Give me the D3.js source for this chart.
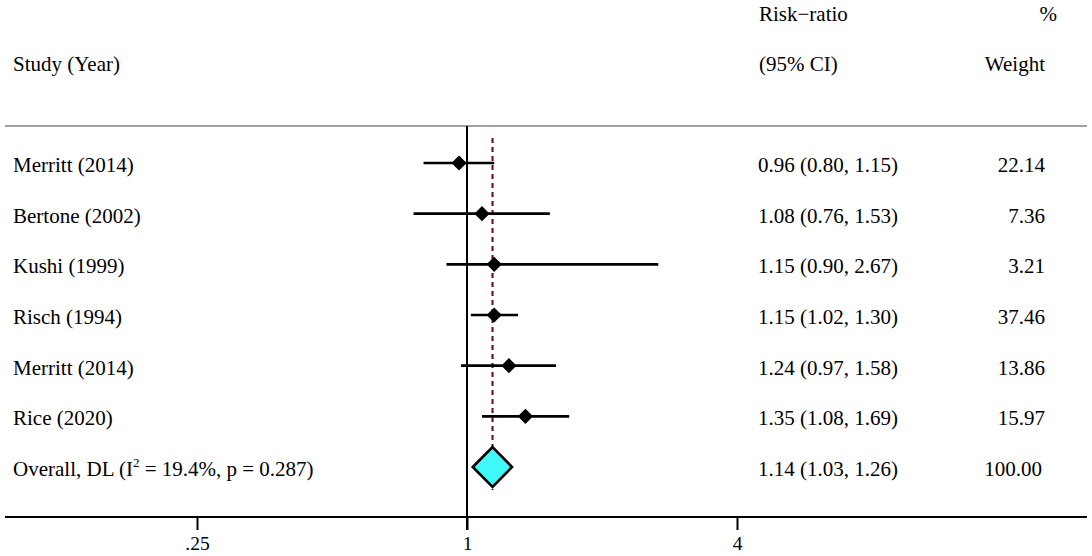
<!DOCTYPE html>
<html>
<head>
<meta charset="utf-8">
<script src="https://cdn.jsdelivr.net/npm/d3@7"></script>
<style>
html,body{margin:0;padding:0;background:#fff;}
svg{display:block;font-family:"Liberation Serif","Times New Roman",serif;}
</style>
</head>
<body>
<svg id="chart" width="1092" height="556"></svg>
<script>
const studies = ["Merritt (2014)","Bertone (2002)","Kushi (1999)","Risch (1994)","Merritt (2014)","Rice (2020)"];
const rr      = [0.96, 1.08, 1.15, 1.15, 1.24, 1.35];
const lower   = [0.80, 0.76, 0.90, 1.02, 0.97, 1.08];
const upper   = [1.15, 1.53, 2.67, 1.30, 1.58, 1.69];
const weights = ["22.14","7.36","3.21","37.46","13.86","15.97"];
const ciText  = ["0.96 (0.80, 1.15)","1.08 (0.76, 1.53)","1.15 (0.90, 2.67)","1.15 (1.02, 1.30)","1.24 (0.97, 1.58)","1.35 (1.08, 1.69)"];
const overall = {rr:1.14, lo:1.03, hi:1.26, ci:"1.14 (1.03, 1.26)", w:"100.00"};
const tickValues = [0.25, 1, 4];
const tickLabels = [".25", "1", "4"];

const svg = d3.select("#chart");
const x = d3.scaleLog().domain([0.25, 4]).range([197, 737]);
const y = d3.scaleLinear().domain([0, 6]).range([163, 467]);
const FS = 21;

// headers
const hdr = svg.append("g").attr("font-size", FS).attr("fill", "#000");
hdr.append("text").attr("x", 13).attr("y", 71).text("Study (Year)");
hdr.append("text").attr("x", 759).attr("y", 21).text("Risk\u2212ratio");
hdr.append("text").attr("x", 759).attr("y", 71).text("(95% CI)");
hdr.append("text").attr("x", 1057).attr("y", 21).attr("text-anchor","end").text("%");
hdr.append("text").attr("x", 1045).attr("y", 71).attr("text-anchor","end").text("Weight");

// divider
svg.append("line").attr("x1", 5).attr("x2", 1087).attr("y1", 126).attr("y2", 126)
  .attr("stroke", "#808080").attr("stroke-width", 1.6);

// null line at 1
svg.append("line").attr("x1", x(1)).attr("x2", x(1)).attr("y1", 126).attr("y2", 530)
  .attr("stroke", "#000").attr("stroke-width", 2);

// dashed overall line
svg.append("line").attr("x1", x(overall.rr)).attr("x2", x(overall.rr)).attr("y1", 138).attr("y2", 490)
  .attr("stroke", "#5a0a14").attr("stroke-width", 2).attr("stroke-dasharray", "5,4");

// bottom axis
svg.append("line").attr("x1", 5).attr("x2", 1087).attr("y1", 517).attr("y2", 517)
  .attr("stroke", "#000").attr("stroke-width", 2);
const axis = d3.axisBottom(x).tickValues(tickValues).tickSize(13).tickPadding(0)
  .tickFormat((d, i) => tickLabels[i]);
const ag = svg.append("g").attr("transform", "translate(0,517)").call(axis);
ag.select(".domain").remove();
ag.selectAll(".tick line").attr("stroke", "#000").attr("stroke-width", 2);
ag.selectAll(".tick text").attr("font-size", 19.5).attr("fill", "#000")
  .attr("font-family", "\"Liberation Serif\",\"Times New Roman\",serif")
  .attr("y", 33).attr("dy", null);

// study rows
const idx = d3.range(studies.length);
const rows = svg.append("g");
rows.selectAll("line.ci").data(idx).join("line").attr("class","ci")
  .attr("x1", i => x(lower[i])).attr("x2", i => x(upper[i]))
  .attr("y1", i => y(i)).attr("y2", i => y(i))
  .attr("stroke", "#000").attr("stroke-width", 2.6);
const ds = 7.6;
rows.selectAll("path.pt").data(idx).join("path").attr("class","pt")
  .attr("d", i => {
    const cx = x(rr[i]), cy = y(i);
    return `M${cx},${cy-ds}L${cx+ds},${cy}L${cx},${cy+ds}L${cx-ds},${cy}Z`;
  })
  .attr("fill", "#000");
rows.selectAll("text.lab").data(idx).join("text").attr("class","lab")
  .attr("x", 13).attr("y", i => y(i) + 9).attr("font-size", FS).text(i => studies[i]);
rows.selectAll("text.ci").data(idx).join("text").attr("class","ci")
  .attr("x", 758).attr("y", i => y(i) + 9).attr("font-size", FS).text(i => ciText[i]);
rows.selectAll("text.w").data(idx).join("text").attr("class","w")
  .attr("x", 1045).attr("y", i => y(i) + 9).attr("font-size", FS).attr("text-anchor","end").text(i => weights[i]);

// overall row
const oy = y(6);
svg.append("path")
  .attr("d", `M${x(overall.lo)},${oy}L${x(overall.rr)},${oy-20}L${x(overall.hi)},${oy}L${x(overall.rr)},${oy+20}Z`)
  .attr("fill", "#40f8f8").attr("stroke", "#000").attr("stroke-width", 2.6).attr("stroke-linejoin","miter");
const ot = svg.append("text").attr("x", 13).attr("y", oy + 9).attr("font-size", FS);
ot.append("tspan").text("Overall, DL (I");
ot.append("tspan").attr("font-size", 13).attr("dy", -9).text("2");
ot.append("tspan").attr("dy", 9).text(" = 19.4%, p = 0.287)");
svg.append("text").attr("x", 758).attr("y", oy + 9).attr("font-size", FS).text(overall.ci);
svg.append("text").attr("x", 1042).attr("y", oy + 9).attr("font-size", FS).attr("text-anchor","end").text(overall.w);
</script>
</body>
</html>
